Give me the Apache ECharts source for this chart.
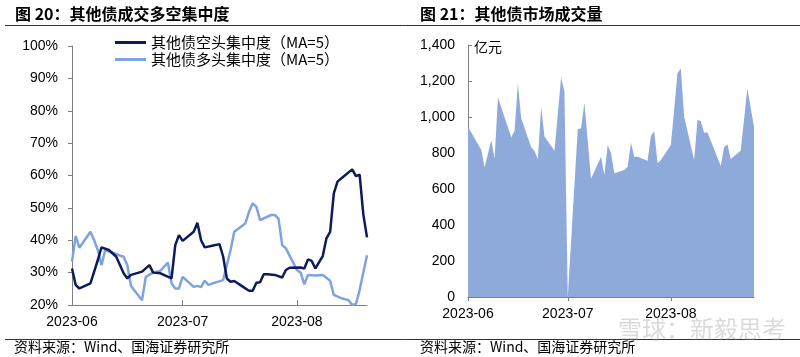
<!DOCTYPE html>
<html>
<head>
<meta charset="utf-8">
<script src="https://cdn.jsdelivr.net/npm/echarts@6/dist/echarts.min.js"></script>
<style>
html,body{margin:0;padding:0;background:#fff;}
#c{width:800px;height:357px;}
</style>
</head>
<body>
<div id="c"></div>
<script>
// ---- Data ----
const monthTicks = ['2023-06-01', '2023-07-01', '2023-08-01'];

const shortName = '其他债空头集中度（MA=5）';
const shortDates = ['2023-06-01','2023-06-02','2023-06-03','2023-06-06','2023-06-08','2023-06-09','2023-06-11','2023-06-13','2023-06-15','2023-06-16','2023-06-17','2023-06-20','2023-06-22','2023-06-23','2023-06-25','2023-06-28','2023-06-29','2023-06-30','2023-07-01','2023-07-04','2023-07-05','2023-07-06','2023-07-07','2023-07-09','2023-07-11','2023-07-12','2023-07-13','2023-07-14','2023-07-15','2023-07-17','2023-07-19','2023-07-20','2023-07-21','2023-07-22','2023-07-23','2023-07-24','2023-07-26','2023-07-28','2023-07-29','2023-07-30','2023-08-02','2023-08-03','2023-08-04','2023-08-05','2023-08-06','2023-08-08','2023-08-09','2023-08-10','2023-08-11','2023-08-12','2023-08-13','2023-08-16','2023-08-17','2023-08-18','2023-08-19','2023-08-20'];
const shortVals = [31.3,26.2,25.1,26.7,33.9,37.8,37.0,34.9,29.8,28.2,29.3,30.3,32.3,30.0,29.8,28.2,38.5,41.6,39.8,42.6,45.4,40.0,37.8,38.3,38.8,34.9,28.2,27.2,27.4,25.9,24.4,24.4,26.9,27.0,29.5,29.5,29.3,28.5,30.8,31.5,31.6,31.3,34.1,33.6,31.3,35.1,40.6,42.6,54.5,58.1,59.1,61.9,59.8,60.3,48.0,40.9];

const longName = '其他债多头集中度（MA=5）';
const longDates = ['2023-06-01','2023-06-02','2023-06-03','2023-06-06','2023-06-07','2023-06-08','2023-06-09','2023-06-10','2023-06-14','2023-06-15','2023-06-16','2023-06-17','2023-06-20','2023-06-21','2023-06-23','2023-06-25','2023-06-27','2023-06-28','2023-06-29','2023-06-30','2023-07-01','2023-07-04','2023-07-05','2023-07-06','2023-07-07','2023-07-08','2023-07-10','2023-07-12','2023-07-14','2023-07-15','2023-07-18','2023-07-19','2023-07-20','2023-07-21','2023-07-22','2023-07-25','2023-07-26','2023-07-27','2023-07-28','2023-07-29','2023-08-01','2023-08-02','2023-08-03','2023-08-04','2023-08-06','2023-08-08','2023-08-10','2023-08-11','2023-08-13','2023-08-15','2023-08-16','2023-08-17','2023-08-18','2023-08-20'];
const longVals = [33.4,41.3,37.7,42.6,40.0,37.0,32.3,37.0,35.3,34.9,32.3,25.9,21.5,28.7,30.0,30.6,33.1,26.7,25.1,25.1,28.7,25.6,25.9,25.5,27.5,26.2,27.0,27.7,37.0,42.6,45.2,48.8,51.4,50.3,46.2,47.8,47.8,46.7,38.5,37.5,30.8,30.0,26.4,29.3,29.1,29.3,27.5,23.1,22.1,21.5,20.0,20.3,24.6,35.4];

const volDates = ['2023-06-01','2023-06-05','2023-06-06','2023-06-08','2023-06-09','2023-06-10','2023-06-14','2023-06-15','2023-06-16','2023-06-17','2023-06-20','2023-06-21','2023-06-22','2023-06-23','2023-06-24','2023-06-27','2023-06-29','2023-06-30','2023-07-01','2023-07-04','2023-07-05','2023-07-06','2023-07-08','2023-07-11','2023-07-12','2023-07-13','2023-07-14','2023-07-15','2023-07-18','2023-07-19','2023-07-20','2023-07-21','2023-07-22','2023-07-25','2023-07-26','2023-07-27','2023-07-28','2023-07-29','2023-08-01','2023-08-03','2023-08-04','2023-08-05','2023-08-08','2023-08-09','2023-08-10','2023-08-11','2023-08-12','2023-08-16','2023-08-17','2023-08-18','2023-08-19','2023-08-22','2023-08-24','2023-08-26'];
const volVals = [946,817,720,872,770,1109,887,924,1187,993,832,811,765,1057,891,813,1220,1141,0,932,937,1079,657,779,678,844,800,687,706,724,857,779,779,757,894,922,743,761,844,1243,1270,1002,761,983,978,913,915,728,832,848,767,813,1159,946];

// ---- Styles ----
const latin = '"Liberation Sans", Arial, "Noto Sans CJK SC", sans-serif';
const cjk = '"Noto Sans CJK SC", "Liberation Sans", sans-serif';
const axisGray = '#808080';
const darkBlue = '#0c1c5a';
const lightBlue = '#7ea3e0';
const areaBlue = '#8eaadb';

const pd = s => echarts.number.parseDate(s).getTime();
const monthVals = monthTicks.map(pd);
const fmtMonth = v => echarts.time.format(v, '{yyyy}-{MM}', false);

const chart = echarts.init(document.getElementById('c'), null, {renderer: 'canvas'});

function xAxisDef(gridIndex, maxDate, inside, len) {
  return {
    type: 'value', gridIndex: gridIndex,
    min: pd('2023-06-01'), max: pd(maxDate),
    axisLine: {show: true, onZero: false, lineStyle: {color: axisGray, width: 1}},
    axisTick: {show: true, inside: inside, length: len, lineStyle: {color: axisGray}, customValues: monthVals},
    axisLabel: {customValues: monthVals, formatter: fmtMonth, fontSize: 14, color: '#000', margin: 10, fontFamily: latin, hideOverlap: false, showMinLabel: true, showMaxLabel: true},
    splitLine: {show: false}
  };
}

const option = {
  animation: false,
  backgroundColor: '#fff',
  textStyle: {fontFamily: latin},
  graphic: [
    {type: 'text', left: 15, top: 6, style: {text: '图 20：其他债成交多空集中度', font: 'bold 16px ' + cjk, fill: '#000'}},
    {type: 'text', left: 420, top: 6, style: {text: '图 21：其他债市场成交量', font: 'bold 16px ' + cjk, fill: '#000'}},
    {type: 'line', shape: {x1: 5, y1: 25.5, x2: 800, y2: 25.5}, style: {stroke: '#333', lineWidth: 1}},
    {type: 'line', shape: {x1: 5, y1: 339.5, x2: 800, y2: 339.5}, style: {stroke: '#333', lineWidth: 1}},
    {type: 'text', left: 14, top: 340, style: {text: '资料来源：Wind、国海证券研究所', font: '14px ' + cjk, fill: '#000'}},
    {type: 'text', left: 420, top: 340, style: {text: '资料来源：Wind、国海证券研究所', font: '14px ' + cjk, fill: '#000'}},
    {type: 'text', left: 474, top: 40, style: {text: '亿元', font: '14px ' + cjk, fill: '#000'}},
    {type: 'text', left: 618, top: 317, z: 100, style: {text: '雪球：新毅思考', font: '24px ' + cjk, fill: 'rgba(150,150,150,0.35)'}}
  ],
  legend: {
    orient: 'vertical',
    left: 110, top: 30,
    itemWidth: 31, itemHeight: 3, itemGap: 2,
    icon: 'rect',
    textStyle: {fontFamily: cjk, fontSize: 15, color: '#000'},
    data: [shortName, longName]
  },
  grid: [
    {left: 72, top: 46, width: 295, height: 259, containLabel: false},
    {left: 468, top: 45, width: 286, height: 252, containLabel: false}
  ],
  xAxis: [
    xAxisDef(0, '2023-08-20', true, 5),
    xAxisDef(1, '2023-08-26', false, 4)
  ],
  yAxis: [
    {
      type: 'value', gridIndex: 0, min: 20, max: 100, interval: 10,
      axisLine: {show: true, lineStyle: {color: axisGray, width: 1}},
      axisTick: {show: true, inside: false, length: 4, lineStyle: {color: axisGray}},
      axisLabel: {formatter: '{value}%', fontSize: 14, color: '#000', margin: 14, fontFamily: latin},
      splitLine: {show: false}
    },
    {
      type: 'value', gridIndex: 1, min: 0, max: 1400, interval: 200,
      axisLine: {show: true, lineStyle: {color: axisGray, width: 1}},
      axisTick: {show: true, inside: true, length: 4, lineStyle: {color: axisGray}},
      axisLabel: {formatter: v => echarts.format.addCommas(v), fontSize: 14, color: '#000', margin: 13, fontFamily: latin},
      splitLine: {show: false}
    }
  ],
  series: [
    {
      name: shortName, type: 'line', xAxisIndex: 0, yAxisIndex: 0,
      data: shortDates.map((d, i) => [pd(d), shortVals[i]]),
      showSymbol: false, symbol: 'none',
      lineStyle: {color: darkBlue, width: 2.5}, itemStyle: {color: darkBlue}, z: 3
    },
    {
      name: longName, type: 'line', xAxisIndex: 0, yAxisIndex: 0,
      data: longDates.map((d, i) => [pd(d), longVals[i]]),
      showSymbol: false, symbol: 'none',
      lineStyle: {color: lightBlue, width: 2.5}, itemStyle: {color: lightBlue}, z: 2
    },
    {
      name: '其他债市场成交量', type: 'line', xAxisIndex: 1, yAxisIndex: 1,
      data: volDates.map((d, i) => [pd(d), volVals[i]]),
      showSymbol: false, symbol: 'none',
      lineStyle: {width: 0, color: areaBlue},
      areaStyle: {color: areaBlue, opacity: 1},
      itemStyle: {color: areaBlue}
    }
  ]
};
chart.setOption(option);
</script>
</body>
</html>
